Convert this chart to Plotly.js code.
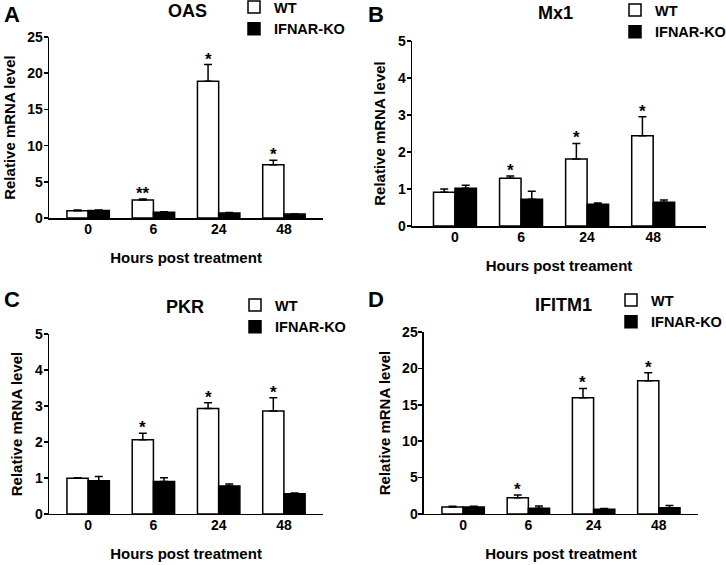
<!DOCTYPE html>
<html>
<head>
<meta charset="utf-8">
<script src="https://cdn.plot.ly/plotly-3.0.1.min.js"></script>
<style>
  html, body { margin: 0; padding: 0; background: #fff; }
  #chart { width: 726px; height: 565px; }
</style>
</head>
<body>
<div id="chart"></div>
<script>
/* values (mean, upper SEM) */
const hours = ['0', '6', '24', '48'];
const seriesNames = ['WT', 'IFNAR-KO'];

const oasWT = [1.0, 2.5, 18.9, 7.35];
const oasWTErr = [0.1, 0.15, 2.3, 0.65];
const oasKO = [1.05, 0.82, 0.7, 0.55];
const oasKOErr = [0.08, 0.05, 0.08, 0.03];
const oasStars = ['', '**', '*', '*'];

const mx1WT = [0.91, 1.29, 1.81, 2.44];
const mx1WTErr = [0.09, 0.06, 0.42, 0.51];
const mx1KO = [1.02, 0.72, 0.59, 0.64];
const mx1KOErr = [0.08, 0.22, 0.03, 0.06];
const mx1Stars = ['', '*', '*', '*'];

const pkrWT = [0.99, 2.06, 2.93, 2.86];
const pkrWTErr = [0.02, 0.18, 0.16, 0.37];
const pkrKO = [0.92, 0.9, 0.78, 0.56];
const pkrKOErr = [0.12, 0.11, 0.05, 0.02];
const pkrStars = ['', '*', '*', '*'];

const ifitmWT = [0.96, 2.24, 15.95, 18.3];
const ifitmWTErr = [0.1, 0.36, 1.3, 1.1];
const ifitmKO = [0.95, 0.8, 0.65, 0.87];
const ifitmKOErr = [0.1, 0.3, 0.1, 0.3];
const ifitmStars = ['', '*', '*', '*'];

const FONT = 'Liberation Sans, Arial, sans-serif';
const BARGAP = 0.35;

const panels = [
  { letter: 'A', gene: 'OAS', wt: oasWT, wtErr: oasWTErr, ko: oasKO, koErr: oasKOErr, stars: oasStars,
    ymax: 25, dtick: 5, xTitle: 'Hours post treatment',
    xd: [0.0675, 0.445], yd: [0.614, 0.9345], range: [-0.6, 3.6],
    letterPos: [2, 14.5], titlePos: [187, 11], legendPos: [234, -9] },
  { letter: 'B', gene: 'Mx1', wt: mx1WT, wtErr: mx1WTErr, ko: mx1KO, koErr: mx1KOErr, stars: mx1Stars,
    ymax: 5, dtick: 1, xTitle: 'Hours post treament',
    xd: [0.5675, 0.9725], yd: [0.6, 0.9274], range: [-0.65, 3.8],
    letterPos: [366, 14.5], titlePos: [555, 13], legendPos: [615, -6] },
  { letter: 'C', gene: 'PKR', wt: pkrWT, wtErr: pkrWTErr, ko: pkrKO, koErr: pkrKOErr, stars: pkrStars,
    ymax: 5, dtick: 1, xTitle: 'Hours post treatment',
    xd: [0.0675, 0.445], yd: [0.0903, 0.4088], range: [-0.6, 3.6],
    letterPos: [2, 299], titlePos: [185, 307], legendPos: [235, 289] },
  { letter: 'D', gene: 'IFITM1', wt: ifitmWT, wtErr: ifitmWTErr, ko: ifitmKO, koErr: ifitmKOErr, stars: ifitmStars,
    ymax: 25, dtick: 5, xTitle: 'Hours post treatment',
    xd: [0.584, 0.9614], yd: [0.0903, 0.4124], range: [-0.6, 3.6],
    letterPos: [366, 299], titlePos: [563, 305], legendPos: [611, 284] }
];

const W = 726, H = 565;
const traces = [];
const annotations = [];
const layout = {
  width: W, height: H,
  margin: { l: 0, r: 0, t: 0, b: 0, autoexpand: false },
  paper_bgcolor: '#fff', plot_bgcolor: '#fff',
  font: { family: FONT, size: 13, color: '#000', weight: 'bold' },
  barmode: 'group', bargap: BARGAP, bargroupgap: 0,
  annotations: annotations
};

panels.forEach((p, i) => {
  const n = i === 0 ? '' : String(i + 1);
  const xa = 'x' + n, ya = 'y' + n;
  const leg = 'legend' + n;
  const xIdx = hours.map((h, k) => k);

  traces.push({
    type: 'bar', name: seriesNames[0], x: xIdx, y: p.wt, xaxis: xa, yaxis: ya, legend: leg,
    marker: { color: '#fff', line: { color: '#000', width: 1.5 } },
    error_y: { type: 'data', symmetric: false, array: p.wtErr, arrayminus: p.wt.map(() => 0),
      color: '#000', thickness: 1.5, width: 4 },
    hoverinfo: 'skip'
  });
  traces.push({
    type: 'bar', name: seriesNames[1], x: xIdx, y: p.ko, xaxis: xa, yaxis: ya, legend: leg,
    marker: { color: '#000', line: { color: '#000', width: 1.5 } },
    error_y: { type: 'data', symmetric: false, array: p.koErr, arrayminus: p.ko.map(() => 0),
      color: '#000', thickness: 1.5, width: 4 },
    hoverinfo: 'skip'
  });

  layout['xaxis' + n] = {
    domain: p.xd, anchor: ya, range: p.range,
    tickvals: xIdx, ticktext: hours, ticks: '', ticklabelstandoff: -2,
    showline: true, linecolor: '#000', linewidth: 1.5,
    showgrid: false, zeroline: false, fixedrange: true,
    tickfont: { size: 14 },
    title: { text: p.xTitle, font: { size: 15 }, standoff: 16 }
  };
  layout['yaxis' + n] = {
    domain: p.yd, anchor: xa, range: [0, p.ymax], dtick: p.dtick,
    ticks: 'outside', ticklen: 4, tickwidth: 1.5, tickcolor: '#000', ticklabelstandoff: -2,
    showline: true, linecolor: '#000', linewidth: 1.5,
    showgrid: false, zeroline: false, fixedrange: true,
    tickfont: { size: 14 },
    title: { text: 'Relative mRNA level', font: { size: 15 }, standoff: 8 }
  };
  layout[leg] = {
    x: p.legendPos[0] / W, y: 1 - p.legendPos[1] / H, xanchor: 'left', yanchor: 'top',
    bgcolor: 'rgba(0,0,0,0)', borderwidth: 0,
    font: { size: 14.5 }, tracegroupgap: 0
  };

  // significance stars above the WT bars
  const off = (1 - BARGAP) / 4;
  p.stars.forEach((s, k) => {
    if (!s) return;
    annotations.push({
      xref: xa, yref: ya, x: k - off, y: p.wt[k] + p.wtErr[k],
      text: s, showarrow: false, xanchor: 'center', yanchor: 'bottom',
      yshift: -6, font: { size: 17 }
    });
  });

  annotations.push({
    xref: 'paper', yref: 'paper', x: p.letterPos[0] / W, y: 1 - p.letterPos[1] / H,
    xanchor: 'left', yanchor: 'middle', text: p.letter, showarrow: false,
    font: { size: 22 }
  });
  annotations.push({
    xref: 'paper', yref: 'paper', x: p.titlePos[0] / W, y: 1 - p.titlePos[1] / H,
    xanchor: 'center', yanchor: 'middle', text: p.gene, showarrow: false,
    font: { size: 18 }
  });
});

Plotly.newPlot('chart', traces, layout, { displayModeBar: false, staticPlot: true });
</script>
</body>
</html>
